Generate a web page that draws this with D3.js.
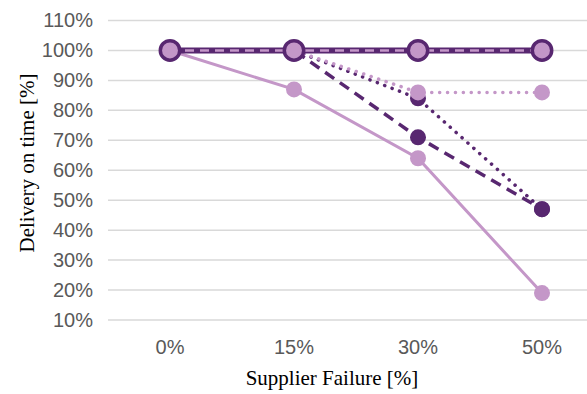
<!DOCTYPE html>
<html>
<head>
<meta charset="utf-8">
<script src="https://cdn.jsdelivr.net/npm/d3@7"></script>
<style>
  html, body { margin: 0; padding: 0; background: #fff; }
  svg { display: block; }
</style>
</head>
<body>
<svg id="chart" width="587" height="394"></svg>
<script>
// Chart data
const categories = ["0%", "15%", "30%", "50%"];
const yTicks = [10, 20, 30, 40, 50, 60, 70, 80, 90, 100, 110];

const baselineSolid   = [100, 100, 100, 100];
const baselineDashed  = [100, 100, 100, 100];
const lightSolid      = [100, 87, 64, 19];
const darkDashed      = [100, 100, 71, 47];
const darkDotted      = [100, 100, 84, 47];
const lightDotted     = [100, 100, 86, 86];

const DARK = "#582770";
const LIGHT = "#c497c8";

const W = 587, H = 394;
const svg = d3.select("#chart");

const x = d3.scaleBand().domain(categories).range([108, 604]);
const y = d3.scaleLinear().domain([10, 110]).range([320, 20.5]);
const cx = c => x(c) + x.bandwidth() / 2;

// Gridlines
svg.append("g")
  .selectAll("line")
  .data(yTicks)
  .join("line")
  .attr("x1", 108).attr("x2", W)
  .attr("y1", d => y(d)).attr("y2", d => y(d))
  .attr("stroke", "#d9d9d9").attr("stroke-width", 1.5);

// Y axis labels
const yAxis = d3.axisLeft(y).tickValues(yTicks).tickFormat(d => d + "%").tickSize(0).tickPadding(0);
const gy = svg.append("g").attr("transform", "translate(93,0)").call(yAxis);
gy.select(".domain").remove();
gy.selectAll("text")
  .attr("fill", "#595959")
  .style("font-family", "'Liberation Sans', Arial, sans-serif")
  .style("font-size", "20px");

// X axis labels
const xAxis = d3.axisBottom(x).tickSize(0).tickPadding(0);
const gx = svg.append("g").attr("transform", "translate(0,340)").call(xAxis);
gx.select(".domain").remove();
gx.selectAll("text")
  .attr("fill", "#595959")
  .style("font-family", "'Liberation Sans', Arial, sans-serif")
  .style("font-size", "20px");

// Axis titles
svg.append("text")
  .attr("x", 332).attr("y", 385)
  .attr("text-anchor", "middle")
  .style("font-family", "'Liberation Serif', 'Times New Roman', serif")
  .style("font-size", "21px")
  .attr("fill", "#000")
  .text("Supplier Failure [%]");

svg.append("text")
  .attr("transform", "translate(34,163) rotate(-90)")
  .attr("text-anchor", "middle")
  .style("font-family", "'Liberation Serif', 'Times New Roman', serif")
  .style("font-size", "21px")
  .attr("fill", "#000")
  .text("Delivery on time [%]");

const line = d3.line().x((d, i) => cx(categories[i])).y(d => y(d));

function drawSeries(values, color, width, dash, markerR) {
  const g = svg.append("g");
  g.append("path")
    .datum(values)
    .attr("d", line)
    .attr("fill", "none")
    .attr("stroke", color)
    .attr("stroke-width", width)
    .attr("stroke-linecap", dash === "dot" ? "round" : "butt")
    .attr("stroke-dasharray", dash === "dot" ? "0.1 7.8" : dash);
  if (markerR) {
    g.selectAll("circle")
      .data(values)
      .join("circle")
      .attr("cx", (d, i) => cx(categories[i]))
      .attr("cy", d => y(d))
      .attr("r", markerR)
      .attr("fill", color);
  }
}

drawSeries(lightSolid, LIGHT, 3, null, 8);
drawSeries(darkDashed, DARK, 3.5, "11 7", 8);
drawSeries(darkDotted, DARK, 3.5, "dot", 8);
drawSeries(lightDotted, LIGHT, 3.5, "dot", 8);

// Baseline series: thick dark line with light dashed overlay and large markers
svg.append("path")
  .datum(baselineSolid)
  .attr("d", line)
  .attr("fill", "none")
  .attr("stroke", DARK)
  .attr("stroke-width", 6);

svg.append("path")
  .datum(baselineDashed)
  .attr("d", line)
  .attr("fill", "none")
  .attr("stroke", LIGHT)
  .attr("stroke-width", 2.5)
  .attr("stroke-dasharray", "9 6");

svg.append("g")
  .selectAll("circle")
  .data(baselineSolid)
  .join("circle")
  .attr("cx", (d, i) => cx(categories[i]))
  .attr("cy", d => y(d))
  .attr("r", 9.7)
  .attr("fill", LIGHT)
  .attr("stroke", DARK)
  .attr("stroke-width", 3.5);
</script>
</body>
</html>
